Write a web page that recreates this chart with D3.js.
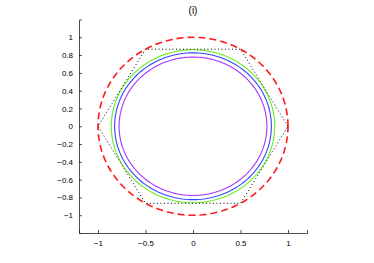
<!DOCTYPE html>
<html>
<head>
<meta charset="utf-8">
<script src="https://cdn.jsdelivr.net/npm/d3@7"></script>
<style>
body { margin: 0; background: #fff; }
svg text { font-family: "Liberation Sans", Arial, sans-serif; }
</style>
</head>
<body>
<script>
var width = 374, height = 263;
var margin = {top: 19.5, bottom: 30, left: 79, right: 67};

var xTicks = [-1, -0.5, 0, 0.5, 1];
var yTicks = [-1, -0.8, -0.6, -0.4, -0.2, 0, 0.2, 0.4, 0.6, 0.8, 1];
var titleText = "(i)";

// circles: radius, colour, dash
var circleRadii = [1, 0.86, 0.825, 0.778];
var circleColors = ["#ff1a1a", "#66ee22", "#3344ff", "#aa33ff"];
var circleDash = ["7,4", null, null, null];

// hexagon vertices (angle in degrees, radius 1)
var hexAngles = [0, 60, 120, 180, 240, 300, 360];

var svg = d3.select("body").append("svg")
    .attr("width", width)
    .attr("height", height);

var x = d3.scaleLinear().domain([-1.2, 1.2]).range([margin.left, width - margin.right]);
var y = d3.scaleLinear().domain([-1.2, 1.2]).range([height - margin.bottom, margin.top]);

var line = d3.line().x(d => x(d[0])).y(d => y(d[1]));

var angles = d3.range(0, 361, 2);

circleRadii.forEach(function (r, i) {
    svg.append("path")
        .datum(angles.map(a => [r * Math.cos(a * Math.PI / 180), r * Math.sin(a * Math.PI / 180)]))
        .attr("d", line)
        .attr("fill", "none")
        .attr("stroke", circleColors[i])
        .attr("stroke-width", i == 0 ? 1.6 : 1.1)
        .attr("stroke-dasharray", circleDash[i]);
});

svg.append("path")
    .datum(hexAngles.map(a => [Math.cos(a * Math.PI / 180), Math.sin(a * Math.PI / 180)]))
    .attr("d", line)
    .attr("fill", "none")
    .attr("stroke", "#000")
    .attr("stroke-width", 1)
    .attr("stroke-dasharray", "1,2.5");

var xAxis = svg.append("g")
    .attr("transform", "translate(0," + (height - margin.bottom) + ")")
    .call(d3.axisBottom(x).tickValues(xTicks).tickSize(-3).tickPadding(7)
        .tickFormat(d => d3.format("")(d)));

var yAxis = svg.append("g")
    .attr("transform", "translate(" + margin.left + ",0)")
    .call(d3.axisLeft(y).tickValues(yTicks).tickSize(-3).tickPadding(6)
        .tickFormat(d => d3.format("")(+d.toFixed(1))));

[xAxis, yAxis].forEach(function (g) {
    g.select(".domain").attr("stroke", "#222").attr("stroke-width", 0.8);
    g.selectAll(".tick line").attr("stroke", "#222").attr("stroke-width", 0.8);
    g.selectAll("text").attr("font-size", 8).attr("fill", "#000")
        .attr("font-family", "Liberation Sans, Arial, sans-serif");
});

svg.append("text")
    .attr("x", x(0))
    .attr("y", 14)
    .attr("text-anchor", "middle")
    .attr("font-size", 10)
    .attr("fill", "#000")
    .text(titleText);
</script>
</body>
</html>
